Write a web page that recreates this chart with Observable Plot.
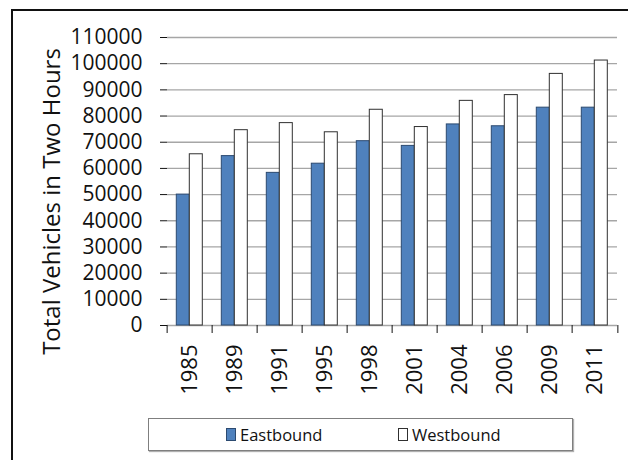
<!DOCTYPE html>
<html>
<head>
<meta charset="utf-8">
<script src="https://cdn.jsdelivr.net/npm/d3@7"></script>
<script src="https://cdn.jsdelivr.net/npm/@observablehq/plot@0.6"></script>
<style>
  html, body { margin: 0; padding: 0; background: #fff; }
  #wrap { position: relative; width: 628px; height: 460px; overflow: hidden; font-family: "Open Sans", sans-serif; }
  #frame { position: absolute; left: 11px; top: 9px; width: 640px; height: 480px; border-top: 2px solid #111; border-left: 2px solid #111; pointer-events: none; z-index: 5; }
  #chart { position: absolute; left: 0; top: 0; }
  #chart svg [aria-label="y-axis tick"], #chart svg [aria-label="fx-axis tick"] { stroke: #a6a6a6; }
  #chart svg [aria-label^="y-axis line"], #chart svg [aria-label="rule"] { stroke: #bfbfbf; }
  #legend { position: absolute; left: 148px; top: 418px; width: 425px; height: 33px; box-sizing: border-box; border: 1px solid #7f7f7f; box-shadow: 1px 1px 1px #b0b0b0; background: #fff; }
  .item { position: absolute; top: 0; height: 31px; display: flex; align-items: center; font-size: 16.5px; color: #111; }
  .sw { width: 10px; height: 13px; margin-right: 4px; box-sizing: border-box; border: 1px solid #333; }
</style>
</head>
<body>
<div id="wrap">
  <div id="chart"></div>
  <div id="legend"></div>
  <div id="frame"></div>
</div>
<script>
const years = ["1985", "1989", "1991", "1995", "1998", "2001", "2004", "2006", "2009", "2011"];
const eastbound = [50000, 64700, 58300, 61800, 70400, 68600, 76800, 76100, 83200, 83200];
const westbound = [65400, 74600, 77300, 73800, 82400, 75800, 85800, 88000, 96100, 101200];
const series = ["Eastbound", "Westbound"];
const seriesFill = ["#4f81bd", "#ffffff"];
const seriesStroke = ["#2c4a70", "#303030"];
const yTicks = [0, 10000, 20000, 30000, 40000, 50000, 60000, 70000, 80000, 90000, 100000, 110000];
const yLabel = "Total Vehicles in Two Hours";

const rows = years.flatMap((year, i) => [
  {year, dir: series[0], value: eastbound[i]},
  {year, dir: series[1], value: westbound[i]}
]);

const W = 628, H = 410, ML = 163.7, MR = 7, MT = 37, MB = 85;
const step = (W - ML - MR) / years.length;

const chart = Plot.plot({
  width: W, height: H,
  marginLeft: ML, marginRight: MR, marginTop: MT, marginBottom: MB,
  style: {fontFamily: "Open Sans", background: "transparent", color: "#111", fontSize: "20px"},
  fx: {domain: years, padding: 0, label: null, axis: null},
  x: {domain: series, paddingInner: 0, paddingOuter: 0.69, axis: null},
  y: {domain: [0, 110000]},
  marks: [
    Plot.gridY(yTicks, {stroke: "#a6a6a6", strokeOpacity: 1, strokeWidth: 1.3}),
    Plot.axisY({ticks: yTicks, tickSize: 7, tickFormat: () => "", label: null, line: true}),
    Plot.axisY({ticks: yTicks, tickSize: 0, tickPadding: 25, fontSize: 21, tickFormat: d => String(d), label: null}),
    Plot.text([yLabel], {text: d => d, frameAnchor: "left", facetAnchor: "left", rotate: -90,
      textAnchor: "middle", lineAnchor: "middle", dx: -115, dy: 20, fontSize: 24, fill: "#111"}),
    Plot.barY(rows.filter(d => d.dir === series[0]), {fx: "year", x: "dir", y: "value", fill: seriesFill[0], stroke: seriesStroke[0], strokeWidth: 1}),
    Plot.barY(rows.filter(d => d.dir === series[1]), {fx: "year", x: "dir", y: "value", fill: seriesFill[1], stroke: seriesStroke[1], strokeWidth: 1}),
    Plot.axisFx({anchor: "bottom", ticks: years, tickSize: 8, tickFormat: () => "", dx: -step / 2, label: null}),
    Plot.axisFx({anchor: "bottom", ticks: years.slice(-1), tickSize: 8, tickFormat: () => "", dx: step / 2, label: null}),
    Plot.axisFx({anchor: "bottom", ticks: years, tickSize: 0, tickPadding: 19, tickRotate: -90, fontSize: 22, label: null})
  ]
});
document.getElementById("chart").appendChild(chart);

const legend = document.getElementById("legend");
const legendLeft = [77, 249];
series.forEach((s, i) => {
  const item = document.createElement("div");
  item.className = "item";
  item.style.left = legendLeft[i] + "px";
  const sw = document.createElement("span");
  sw.className = "sw";
  sw.style.background = seriesFill[i];
  sw.style.borderColor = seriesStroke[i];
  const t = document.createElement("span");
  t.textContent = s;
  item.appendChild(sw);
  item.appendChild(t);
  legend.appendChild(item);
});
</script>
</body>
</html>
